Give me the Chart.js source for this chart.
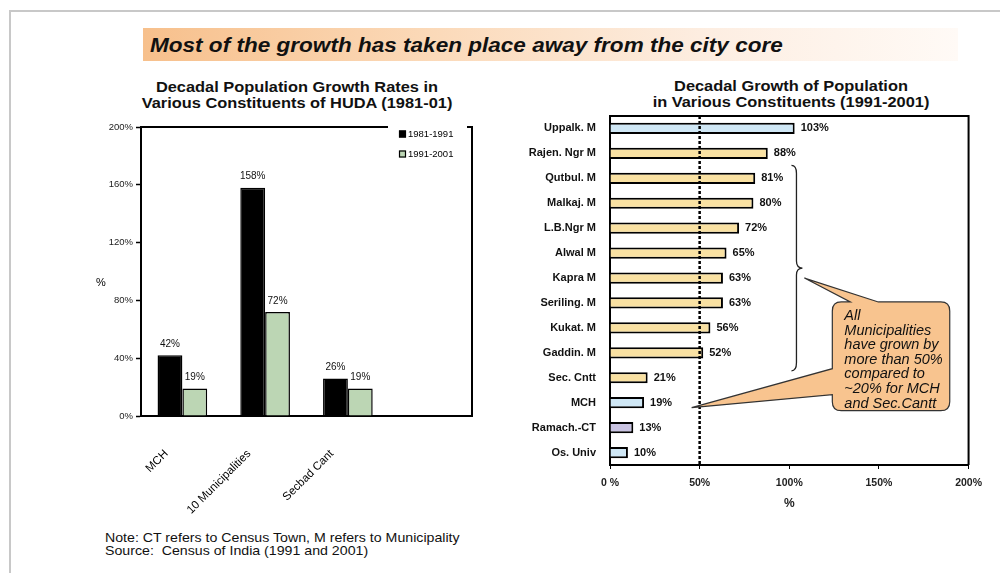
<!DOCTYPE html>
<html lang="en">
<head>
<meta charset="UTF-8">
<title>Decadal Population Growth - HUDA</title>
<style>
  body { margin: 0; width: 1000px; height: 573px; background: #fff; position: relative; overflow: hidden;
         font-family: "Liberation Sans", Arial, sans-serif; }
  .frame { position: absolute; left: 9px; top: 10px; width: 1000px; height: 600px;
           border-top: 2px solid #c8c8c8; border-left: 2px solid #c8c8c8; }
  .banner { position: absolute; left: 143px; top: 28px; width: 815px; height: 33px;
            background: linear-gradient(to right, #f7c08c 0%, #fbd9b8 35%, #fdeee2 70%, #fffaf6 100%); }
  .banner span { position: absolute; left: 7px; top: 5px; font-size: 20.5px; font-weight: bold; font-style: italic;
                 color: #111; white-space: nowrap; transform: scaleX(1.1); transform-origin: left center; }
  .title { position: absolute; width: 320px; font-size: 14px; font-weight: bold; text-align: center;
           line-height: 16px; color: #111; transform: scaleX(1.17); transform-origin: center; }
  .wrap { position: absolute; }
  .note { position: absolute; left: 105px; top: 531px; font-size: 13px; line-height: 13px; color: #111;
          transform: scaleX(1.09); transform-origin: left top; white-space: nowrap; }
</style>
<script src="https://cdn.jsdelivr.net/npm/chart.js"></script>
</head>
<body>
<div class="frame"></div>
<div class="banner"><span>Most of the growth has taken place away from the city core</span></div>

<div class="title" style="left:137px; top:79px;">Decadal Population Growth Rates in<br>Various Constituents of HUDA (1981-01)</div>
<div class="title" style="left:631px; top:78px;">Decadal Growth of Population<br>in Various Constituents (1991-2001)</div>

<div class="wrap" style="left:80px; top:75px; width:410px; height:445px;"><canvas id="leftChart"></canvas></div>
<div class="wrap" style="left:500px; top:75px; width:490px; height:445px;"><canvas id="rightChart"></canvas></div>

<div class="note">Note: CT refers to Census Town, M refers to Municipality<br>Source:&nbsp; Census of India (1991 and 2001)</div>

<script>
// left chart data
const leftCategories = ['MCH', '10 Municipalities', 'Secbad Cant', ''];
const leftSeries = ['1981-1991', '1991-2001'];
const growth1981 = [42, 158, 26, null];
const growth1991 = [19, 72, 19, null];
const leftTicks = ['0%', '40%', '80%', '120%', '160%', '200%'];

// right chart data
const rightCategories = ['Uppalk. M', 'Rajen. Ngr M', 'Qutbul. M', 'Malkaj. M', 'L.B.Ngr M', 'Alwal M',
  'Kapra M', 'Seriling. M', 'Kukat. M', 'Gaddin. M', 'Sec. Cntt', 'MCH', 'Ramach.-CT', 'Os. Univ'];
const growthAll = [103, 88, 81, 80, 72, 65, 63, 63, 56, 52, 21, 19, 13, 10];
const rightTicks = ['0 %', '50%', '100%', '150%', '200%'];

const calloutLines = ['All', 'Municipalities', 'have grown by', 'more than 50%', 'compared to',
  '~20% for MCH', 'and Sec.Cantt'];

const FONT = '"Liberation Sans", Arial, sans-serif';
const blue = '#cfe7f5', wheat = '#f9e1a2', lilac = '#c9c3e2';
const rightColors = [blue, wheat, wheat, wheat, wheat, wheat, wheat, wheat, wheat, wheat, wheat, blue, lilac, blue];

// value labels on bars
const barLabels = {
  id: 'barLabels',
  afterDatasetsDraw(chart, args, opts) {
    const ctx = chart.ctx;
    ctx.save();
    ctx.font = opts.font;
    ctx.fillStyle = '#111';
    chart.data.datasets.forEach((ds, i) => {
      chart.getDatasetMeta(i).data.forEach((bar, j) => {
        const v = ds.data[j];
        if (v == null) return;
        if (opts.horizontal) {
          ctx.textAlign = 'left'; ctx.textBaseline = 'middle';
          ctx.fillText(v + '%', bar.x + opts.offset, bar.y);
        } else {
          ctx.textAlign = 'center'; ctx.textBaseline = 'bottom';
          ctx.fillText(v + '%', bar.x, bar.y - opts.offset);
        }
      });
    });
    ctx.restore();
  }
};

const leftDecor = {
  id: 'leftDecor',
  afterDraw(chart) {
    const ctx = chart.ctx, a = chart.chartArea, xs = chart.scales.x;
    ctx.save();
    ctx.strokeStyle = '#000';
    ctx.lineWidth = 2;
    ctx.beginPath();
    ctx.moveTo(a.left, a.top); ctx.lineTo(a.right - 84, a.top);
    ctx.moveTo(a.right - 5, a.top); ctx.lineTo(a.right, a.top); ctx.lineTo(a.right, a.bottom);
    ctx.stroke();
    // legend
    ctx.font = '9.5px ' + FONT;
    ctx.textBaseline = 'middle';
    ctx.textAlign = 'left';
    chart.data.datasets.forEach((ds, i) => {
      const x = a.right - 73, y = a.top + 7 + i * 20;
      ctx.fillStyle = ds.backgroundColor;
      ctx.fillRect(x, y - 3.5, 7, 7);
      ctx.lineWidth = 1.2;
      ctx.strokeRect(x + 0.5, y - 3, 6, 6);
      ctx.fillStyle = '#000';
      ctx.fillText(ds.label, x + 9, y);
    });
    ctx.font = '11px ' + FONT;
    ctx.fillText('%', 16, (a.top + a.bottom) / 2 + 11);
    // rotated category labels
    ctx.font = '11.5px ' + FONT;
    ctx.textAlign = 'right';
    chart.data.labels.forEach((lab, i) => {
      const x = xs.getPixelForValue(i);
      ctx.save();
      ctx.translate(x - 16, a.bottom + 36);
      ctx.rotate(-Math.PI / 4);
      ctx.fillText(lab, 0, 0);
      ctx.restore();
    });
    ctx.restore();
  }
};

const rightDecor = {
  id: 'rightDecor',
  afterDatasetsDraw(chart) {
    const ctx = chart.ctx, a = chart.chartArea;
    const xs = chart.scales.x, ys = chart.scales.y;
    ctx.save();
    // frame
    ctx.strokeStyle = '#000';
    ctx.lineWidth = 2;
    ctx.beginPath();
    ctx.moveTo(a.left, a.top); ctx.lineTo(a.right, a.top); ctx.lineTo(a.right, a.bottom);
    ctx.stroke();
    // 50% reference line
    const x50 = xs.getPixelForValue(50);
    ctx.setLineDash([3, 2]);
    ctx.lineWidth = 2.5;
    ctx.beginPath();
    ctx.moveTo(x50, a.top); ctx.lineTo(x50, a.bottom);
    ctx.stroke();
    ctx.setLineDash([]);

    // brace around the municipalities
    const bx = xs.getPixelForValue(104);
    const yTop = ys.getPixelForValue(2) - 13, yBot = ys.getPixelForValue(9) + 18;
    const yMid = (yTop + yBot) / 2;
    ctx.lineWidth = 1.3;
    ctx.strokeStyle = '#222';
    ctx.beginPath();
    ctx.moveTo(bx - 5, yTop);
    ctx.quadraticCurveTo(bx, yTop, bx, yTop + 8);
    ctx.lineTo(bx, yMid - 7);
    ctx.quadraticCurveTo(bx, yMid, bx + 6, yMid);
    ctx.quadraticCurveTo(bx, yMid, bx, yMid + 7);
    ctx.lineTo(bx, yBot - 8);
    ctx.quadraticCurveTo(bx, yBot, bx - 5, yBot);
    ctx.stroke();

    // callout
    const L = xs.getPixelForValue(124), R = xs.getPixelForValue(189.5);
    const T = ys.getPixelForValue(7) - 1, B = ys.getPixelForValue(11) + 8;
    const r = 9;
    const tip1 = [bx + 8, yMid + 10], tip2 = [x50 - 8, ys.getPixelForValue(11) + 5];
    ctx.beginPath();
    ctx.moveTo(L + r, T);
    ctx.lineTo(L + 18, T); ctx.lineTo(tip1[0], tip1[1]); ctx.lineTo(L + 46, T);
    ctx.lineTo(R - r, T); ctx.quadraticCurveTo(R, T, R, T + r);
    ctx.lineTo(R, B - r); ctx.quadraticCurveTo(R, B, R - r, B);
    ctx.lineTo(L + r, B); ctx.quadraticCurveTo(L, B, L, B - r);
    ctx.lineTo(L, B - 16); ctx.lineTo(tip2[0], tip2[1]); ctx.lineTo(L, B - 42);
    ctx.lineTo(L, T + r); ctx.quadraticCurveTo(L, T, L + r, T);
    ctx.closePath();
    ctx.fillStyle = '#f8c48f';
    ctx.fill();
    ctx.lineWidth = 1.2;
    ctx.strokeStyle = '#333';
    ctx.stroke();
    ctx.fillStyle = '#111';
    ctx.font = 'italic 14.5px ' + FONT;
    ctx.textAlign = 'left';
    ctx.textBaseline = 'middle';
    calloutLines.forEach((t, i) => ctx.fillText(t, L + 12, T + 14 + i * 14.6));
    ctx.restore();
  }
};

new Chart(document.getElementById('leftChart'), {
  type: 'bar',
  data: {
    labels: leftCategories,
    datasets: [
      { label: leftSeries[0], data: growth1981, backgroundColor: '#000', borderColor: '#000', borderWidth: 1.5 },
      { label: leftSeries[1], data: growth1991, backgroundColor: '#bcd6b4', borderColor: '#000', borderWidth: 1.5 }
    ]
  },
  options: {
    responsive: true,
    maintainAspectRatio: false,
    animation: false,
    layout: { padding: { top: 52, right: 18, left: 0, bottom: 0 } },
    categoryPercentage: 0.6,
    barPercentage: 1,
    plugins: {
      legend: { display: false },
      tooltip: { enabled: false },
      barLabels: { font: '10px ' + FONT, offset: 6, horizontal: false }
    },
    scales: {
      x: {
        grid: { drawOnChartArea: false, drawTicks: false },
        border: { color: '#000', width: 2 },
        ticks: { display: false },
        afterFit(s) { s.height = 104; }
      },
      y: {
        min: 0, max: 200,
        ticks: { stepSize: 40, color: '#222', font: { size: 9.5, family: FONT }, padding: 3,
                 callback: (v, i) => leftTicks[i] },
        grid: { drawOnChartArea: false, color: '#000', tickLength: 5, tickWidth: 1.5 },
        border: { color: '#000', width: 2 },
        afterFit(s) { s.width = 61; }
      }
    }
  },
  plugins: [barLabels, leftDecor]
});

new Chart(document.getElementById('rightChart'), {
  type: 'bar',
  data: {
    labels: rightCategories,
    datasets: [
      { label: '1991-2001', data: growthAll, backgroundColor: rightColors, borderColor: '#000', borderWidth: 2 }
    ]
  },
  options: {
    indexAxis: 'y',
    responsive: true,
    maintainAspectRatio: false,
    animation: false,
    layout: { padding: { top: 41, right: 18, left: 0, bottom: 7 } },
    categoryPercentage: 1,
    barPercentage: 0.45,
    plugins: {
      legend: { display: false },
      tooltip: { enabled: false },
      barLabels: { font: 'bold 11px ' + FONT, offset: 6, horizontal: true }
    },
    scales: {
      x: {
        min: 0, max: 200,
        ticks: { stepSize: 50, color: '#222', font: { size: 10.5, weight: 'bold', family: FONT }, padding: 8,
                 callback: (v, i) => rightTicks[i] },
        grid: { drawOnChartArea: false, color: '#000', tickLength: 4 },
        border: { color: '#000', width: 2 },
        title: { display: true, text: '%', color: '#222', font: { size: 12, weight: 'bold', family: FONT }, padding: 2 },
        afterFit(s) { s.height = 48; }
      },
      y: {
        ticks: { color: '#111', font: { size: 11, weight: 'bold', family: FONT }, padding: 6 },
        grid: { display: false },
        border: { color: '#000', width: 2 },
        afterFit(s) { s.width = 110; }
      }
    }
  },
  plugins: [barLabels, rightDecor]
});
</script>
</body>
</html>
